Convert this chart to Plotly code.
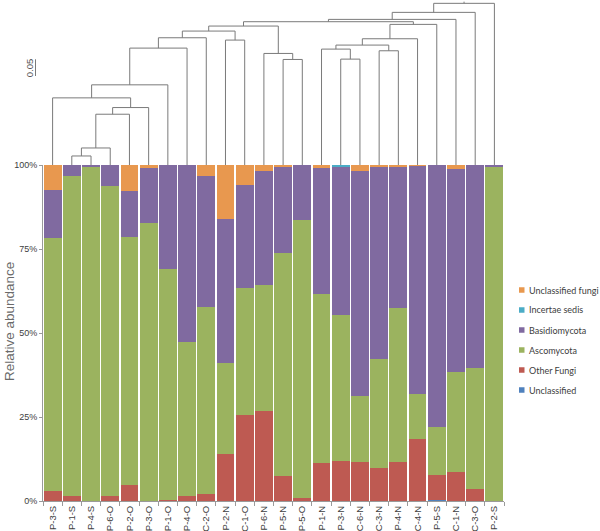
import plotly.graph_objects as go

samples = ["P-3-S", "P-1-S", "P-4-S", "P-6-O", "P-2-O", "P-3-O", "P-1-O", "P-4-O",
           "C-2-O", "P-2-N", "C-1-O", "P-6-N", "P-5-N", "P-5-O", "P-1-N", "P-3-N",
           "C-6-N", "C-3-N", "P-4-N", "C-4-N", "P-5-S", "C-1-N", "C-3-O", "P-2-S"]

unclassified = [0, 0, 0, 0, 0, 0, 0, 0, 0, 0, 0, 0, 0, 0, 0, 0,
                0, 0, 0, 0, 0.4, 0, 0, 0]
other_fungi = [3.0, 1.5, 0, 1.5, 4.9, 0, 0.3, 1.5, 2.1, 13.9, 25.7, 26.8, 7.4, 0.9, 11.2, 11.9,
               11.6, 9.9, 11.6, 18.5, 7.4, 8.6, 3.5, 0]
ascomycota = [75.2, 95.2, 99.7, 92.3, 73.8, 82.6, 68.7, 45.9, 55.7, 27.3, 37.7, 37.4, 66.4, 82.6, 50.4, 43.5,
              19.6, 32.5, 45.9, 13.3, 14.1, 29.7, 36.0, 99.7]
basidiomycota = [14.3, 3.3, 0.3, 6.2, 13.5, 16.5, 31.0, 52.6, 38.8, 42.8, 30.7, 34.0, 25.7, 16.5, 37.6, 44.0,
                 66.9, 57.1, 42.1, 68.0, 78.1, 60.5, 60.5, 0.3]
incertae_sedis = [0, 0, 0, 0, 0, 0, 0, 0, 0, 0, 0, 0, 0, 0, 0, 0.6,
                  0, 0, 0, 0, 0, 0, 0, 0]
unclassified_fungi = [7.5, 0, 0, 0, 7.8, 0.9, 0, 0, 3.4, 16.0, 5.9, 1.8, 0.5, 0, 0.8, 0,
                      1.9, 0.5, 0.4, 0.2, 0, 1.2, 0, 0]

series_names = ["Unclassified", "Other Fungi", "Ascomycota", "Basidiomycota",
                "Incertae sedis", "Unclassified fungi"]
series_values = [unclassified, other_fungi, ascomycota, basidiomycota,
                 incertae_sedis, unclassified_fungi]
series_colors = ["#4F81BD", "#BE5A52", "#9BB35F", "#806AA0", "#4BACC6", "#E8984F"]

y_ticks = [0, 25, 50, 75, 100]
y_tick_text = ["0%", "25%", "50%", "75%", "100%"]

# dendrogram: leaves 0..23 (bar order); each merge creates node 24, 25, ...
merges = [
    (1, 2, 0.027), (24, 3, 0.051), (25, 4, 0.152), (26, 5, 0.172), (0, 27, 0.201),
    (28, 6, 0.240), (29, 7, 0.350), (30, 8, 0.381), (9, 10, 0.374), (31, 32, 0.401),
    (12, 13, 0.316), (11, 34, 0.334), (33, 35, 0.416), (15, 16, 0.317), (14, 37, 0.347),
    (17, 18, 0.342), (38, 39, 0.359), (40, 19, 0.378), (41, 20, 0.421), (36, 42, 0.429),
    (43, 21, 0.436), (44, 22, 0.457), (45, 23, 0.484),
]
scale_len = 0.05

# ---- layout geometry (pixels) ----
W, H = 600, 531
L, R, T, B = 43, 96, 0, 30
plot_w = W - L - R
plot_h = H - T - B
bar_top_px = 165
bar_dom_top = (H - B - bar_top_px) / plot_h
px_per_unit = 334.0
dend_max = (bar_top_px - T) / px_per_unit

fig = go.Figure()
for name, vals, col in zip(series_names, series_values, series_colors):
    fig.add_trace(go.Bar(x=samples, y=vals, name=name, marker=dict(color=col, line=dict(width=0)),
                         showlegend=False, xaxis="x", yaxis="y"))

# dendrogram lines
node_x = {i: float(i) for i in range(len(samples))}
node_h = {i: 0.0 for i in range(len(samples))}
dx, dy = [], []
nid = len(samples)
for l, r, h in merges:
    xl, xr = node_x[l], node_x[r]
    dx += [xl, xl, xr, xr, None]
    dy += [node_h[l], h, h, node_h[r], None]
    node_x[nid] = (xl + xr) / 2
    node_h[nid] = h
    nid += 1
root = nid - 1
dx += [node_x[root], node_x[root]]
dy += [node_h[root], node_h[root] + 0.005]
fig.add_trace(go.Scatter(x=dx, y=dy, mode="lines", line=dict(color="#7a7a7a", width=1),
                         xaxis="x2", yaxis="y2", showlegend=False, hoverinfo="skip"))

def px_x(p):
    return (p - L) / plot_w

def px_y(p):
    return (H - B - p) / plot_h

annotations = []
shapes = []
# y-axis title
annotations.append(dict(text="Relative abundance", x=px_x(9), y=px_y(322), xref="paper", yref="paper",
                        showarrow=False, textangle=-90, xanchor="center", yanchor="middle",
                        font=dict(family="Liberation Sans", size=13.5, color="#6a6a6a")))
# scale bar
sb_bottom = (bar_top_px - 76) / px_per_unit
shapes.append(dict(type="line", xref="paper", yref="y2", x0=px_x(35.5), x1=px_x(35.5),
                   y0=sb_bottom, y1=sb_bottom + scale_len, line=dict(color="#7a7a7a", width=1)))
annotations.append(dict(text=f"{scale_len:.2f}", x=px_x(29.5), y=sb_bottom + scale_len / 2,
                        xref="paper", yref="y2", showarrow=False, textangle=-90,
                        xanchor="center", yanchor="middle",
                        font=dict(family="Liberation Sans", size=9.5, color="#555555")))
# manual legend (reverse stack order)
leg_y0, leg_dy = 290, 20
for k, (name, col) in enumerate(zip(series_names[::-1], series_colors[::-1])):
    yc = leg_y0 + leg_dy * k
    shapes.append(dict(type="rect", xref="paper", yref="paper",
                       x0=px_x(519), x1=px_x(524.5), y0=px_y(yc + 2.75), y1=px_y(yc - 2.75),
                       fillcolor=col, line=dict(width=0)))
    annotations.append(dict(text=name, x=px_x(527), y=px_y(yc), xref="paper", yref="paper",
                            showarrow=False, xanchor="left", yanchor="middle",
                            font=dict(family="Lato", size=9, color="#404040")))

fig.update_layout(
    width=W, height=H,
    margin=dict(l=L, r=R, t=T, b=B, pad=0),
    paper_bgcolor="white", plot_bgcolor="white",
    barmode="stack", bargap=0.07,
    showlegend=False,
    xaxis=dict(type="category", domain=[0, 1], anchor="y", tickson="boundaries",
               ticks="outside", ticklen=4, tickcolor="#9a9a9a", showline=True, linecolor="#9a9a9a",
               linewidth=1, tickangle=-90, showgrid=False, zeroline=False,
               tickfont=dict(family="Liberation Sans", size=9.5, color="#404040"), automargin=False),
    yaxis=dict(domain=[0, bar_dom_top], anchor="x", range=[0, 100], tickvals=y_ticks,
               ticktext=y_tick_text, ticks="outside", ticklen=3, tickcolor="#9a9a9a",
               showline=True, linecolor="#9a9a9a", linewidth=1, showgrid=False, zeroline=False,
               tickfont=dict(family="Liberation Sans", size=9, color="#404040"), automargin=False),
    xaxis2=dict(domain=[0, 1], anchor="y2", range=[-0.5, len(samples) - 0.5], visible=False),
    yaxis2=dict(domain=[bar_dom_top, 1], anchor="x2", range=[0, dend_max], visible=False),
    annotations=annotations,
    shapes=shapes,
)

fig.write_html("out.html", config={"displayModeBar": False},
               post_script="document.body.style.margin='0';document.body.style.overflow='hidden';")
